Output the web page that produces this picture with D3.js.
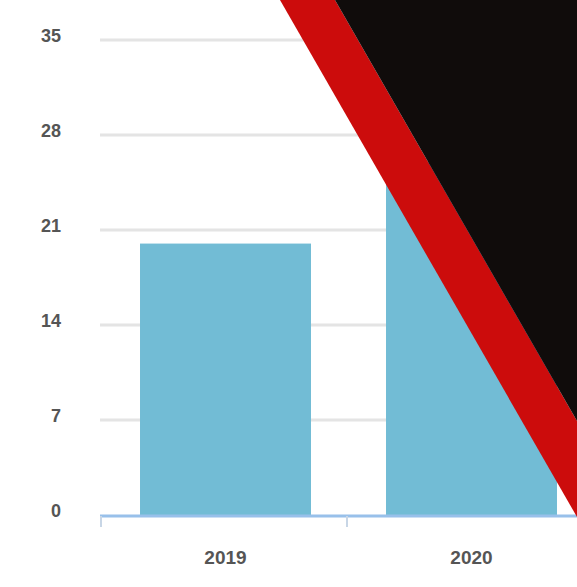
<!DOCTYPE html>
<html>
<head>
<meta charset="utf-8">
<script src="https://cdn.jsdelivr.net/npm/d3@7"></script>
<style>
  html, body { margin: 0; padding: 0; background: #ffffff; }
  svg { display: block; }
</style>
</head>
<body>
<div id="chart"></div>
<script>
// ---- data ----
const categories = ["2019", "2020"];
const values = [20, 26];
const yTicks = [0, 7, 14, 21, 28, 35];

// ---- layout ----
const W = 577, H = 587;
const svg = d3.select("#chart").append("svg").attr("width", W).attr("height", H);

const x = d3.scaleBand().domain(categories).range([102.5, 594.5]).paddingInner(0.305).paddingOuter(0.1525);
const xOuter = d3.scaleBand().domain(categories).range([101, 593]);
const y = d3.scaleLinear().domain([0, 35]).range([515, 40]);

// gridlines
svg.append("g").selectAll("line").data(yTicks.filter(d => d > 0)).join("line")
  .attr("x1", 100).attr("x2", W)
  .attr("y1", d => y(d)).attr("y2", d => y(d))
  .attr("stroke", "#e4e4e4").attr("stroke-width", 3);

// y labels
svg.append("g").selectAll("text").data(yTicks).join("text")
  .attr("x", 61).attr("y", d => y(d) - 4)
  .attr("dy", "0.35em")
  .attr("text-anchor", "end")
  .attr("font-family", "Liberation Sans, Arial, sans-serif")
  .attr("font-size", 18)
  .attr("font-weight", "bold")
  .attr("fill", "#555")
  .text(d => d);

// bars
svg.append("g").selectAll("rect").data(values).join("rect")
  .attr("x", (d, i) => x(categories[i]))
  .attr("width", x.bandwidth())
  .attr("y", d => y(d))
  .attr("height", d => y(0) - y(d))
  .attr("fill", "#72bcd5");

// x axis line
svg.append("line")
  .attr("x1", 100).attr("x2", W)
  .attr("y1", y(0) + 1).attr("y2", y(0) + 1)
  .attr("stroke", "#98c0ea").attr("stroke-width", 3);

// x ticks at band boundaries
const boundaries = categories.map(c => xOuter(c));
svg.append("g").selectAll("line").data(boundaries).join("line")
  .attr("x1", d => d).attr("x2", d => d)
  .attr("y1", y(0) + 1).attr("y2", y(0) + 12)
  .attr("stroke", "#c8d6e6").attr("stroke-width", 2);

// x labels
svg.append("g").selectAll("text").data(categories).join("text")
  .attr("x", d => x(d) + x.bandwidth() / 2)
  .attr("y", 557)
  .attr("dy", "0.35em")
  .attr("text-anchor", "middle")
  .attr("font-family", "Liberation Sans, Arial, sans-serif")
  .attr("font-size", 19)
  .attr("font-weight", "bold")
  .attr("fill", "#555")
  .text(d => d);

// overlay (red stripe + black corner)
svg.append("polygon")
  .attr("points", "280,0 335,0 577,421 577,517")
  .attr("fill", "#cc0c0c");
svg.append("polygon")
  .attr("points", "335,0 577,0 577,421")
  .attr("fill", "#100c0b");
</script>
</body>
</html>
